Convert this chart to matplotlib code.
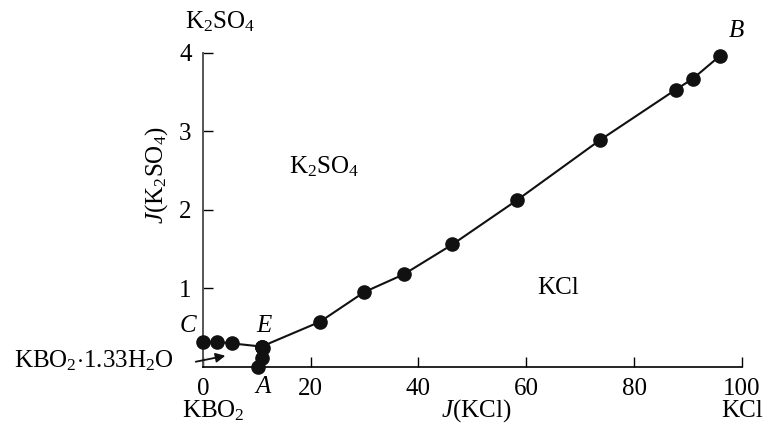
import matplotlib
matplotlib.use("Agg")
import matplotlib.pyplot as plt

plt.rcParams['font.family'] = ['Liberation Serif', 'DejaVu Serif']
plt.rcParams['mathtext.fontset'] = 'custom'
plt.rcParams['mathtext.rm'] = 'Liberation Serif'
plt.rcParams['mathtext.it'] = 'Liberation Serif:italic'

# branch C-E (KBO2*1.33H2O crystallization)
ce_x = [0, 2.7, 5.5, 10.9]
ce_y = [0.32, 0.32, 0.30, 0.26]
# branch E-A
ea_x = [10.9, 11.2, 10.9, 10.3]
ea_y = [0.26, 0.24, 0.11, 0.0]
# branch E-B (K2SO4 / KCl boundary)
eb_x = [10.9, 21.75, 29.96, 37.3, 46.3, 58.2, 73.7, 87.7, 90.9, 95.9]
eb_y = [0.26, 0.576, 0.954, 1.18, 1.56, 2.12, 2.89, 3.53, 3.67, 3.96]

xticks = [0, 20, 40, 60, 80, 100]
yticks = [1, 2, 3, 4]

fs = 18

fig = plt.figure(figsize=(7.68, 4.26), dpi=100)
ax = fig.add_axes([0.264, 0.1385, 0.702, 0.7375])

for xs, ys in [(ce_x, ce_y), (ea_x, ea_y), (eb_x, eb_y)]:
    ax.plot(xs, ys, color='#111111', lw=1.5, marker='o', ms=9.5,
            markeredgecolor='#111111', markerfacecolor='#111111', clip_on=False, zorder=3)

ax.set_xlim(0, 100)
ax.set_ylim(0, 4)
ax.set_xticks(xticks)
ax.set_yticks(yticks)
ax.tick_params(direction='in', length=7, width=1, labelsize=fs)
ax.tick_params(axis='x', pad=8)
ax.tick_params(axis='y', pad=8)
for s in ['top', 'right']:
    ax.spines[s].set_visible(False)
ax.spines['left'].set_color('#555555')
ax.spines['left'].set_linewidth(1.4)
ax.spines['bottom'].set_linewidth(1.2)

# axis titles
fig.text(157 / 768, 1 - 175 / 426, r'$J$(K$_2$SO$_4$)', rotation=90, fontsize=fs,
         ha='center', va='center')
fig.text(476 / 768, 1 - 411 / 426, r'$J$(KCl)', fontsize=fs, ha='center', va='center')
fig.text(742 / 768, 1 - 411 / 426, 'KCl', fontsize=fs, ha='center', va='center')
fig.text(213 / 768, 1 - 411 / 426, r'KBO$_2$', fontsize=fs, ha='center', va='center')
fig.text(220 / 768, 1 - 22 / 426, r'K$_2$SO$_4$', fontsize=fs, ha='center', va='center')
fig.text(263 / 768, 1 - 387 / 426, 'A', fontsize=fs, style='italic', ha='center', va='center')

# field labels
ax.text(22.5, 2.55, r'K$_2$SO$_4$', fontsize=fs, ha='center', va='center')
ax.text(66.0, 1.0, 'KCl', fontsize=fs, ha='center', va='center')

# point labels
ax.text(-2.7, 0.52, 'C', fontsize=fs, style='italic', ha='center', va='center')
ax.text(11.3, 0.52, 'E', fontsize=fs, style='italic', ha='center', va='center')
ax.text(99.0, 4.28, 'B', fontsize=fs, style='italic', ha='center', va='center', clip_on=False)

# KBO2*1.33H2O label with arrow
ax.annotate('', xy=(4.7, 0.15), xytext=(-1.8, 0.06),
            arrowprops=dict(arrowstyle='-|>', color='#111111', lw=1.3, mutation_scale=14),
            annotation_clip=False)
fig.text(94 / 768, 1 - 361 / 426, r'KBO$_2$$\cdot$1.33H$_2$O', fontsize=fs,
         ha='center', va='center')

fig.savefig('out.png', dpi=100)
